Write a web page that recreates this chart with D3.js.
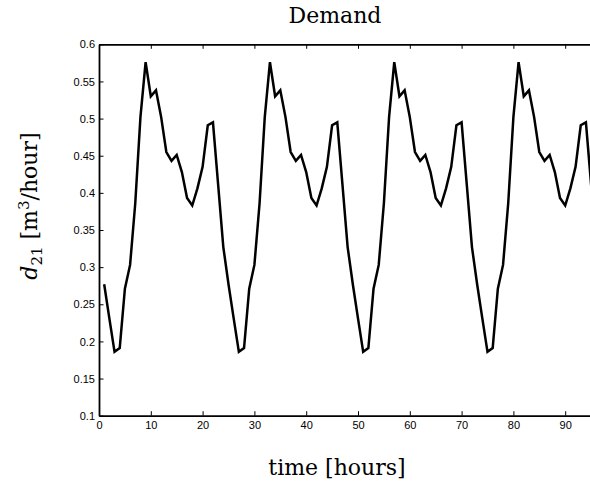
<!DOCTYPE html>
<html>
<head>
<meta charset="utf-8">
<script src="https://cdn.jsdelivr.net/npm/d3@7"></script>
<style>
  body { margin: 0; background: #fff; }
  svg { display: block; }
</style>
</head>
<body>
<div id="chart"></div>
<script>
// hours 1..96
var hours = d3.range(1, 97);
var demand = [
  0.277, 0.231, 0.186, 0.191, 0.271, 0.303, 0.386, 0.502, 0.576, 0.530, 0.538, 0.502,
  0.455, 0.443, 0.451, 0.428, 0.393, 0.383, 0.406, 0.435, 0.491, 0.495, 0.411, 0.327,
  0.277, 0.231, 0.186, 0.191, 0.271, 0.303, 0.386, 0.502, 0.576, 0.530, 0.538, 0.502,
  0.455, 0.443, 0.451, 0.428, 0.393, 0.383, 0.406, 0.435, 0.491, 0.495, 0.411, 0.327,
  0.277, 0.231, 0.186, 0.191, 0.271, 0.303, 0.386, 0.502, 0.576, 0.530, 0.538, 0.502,
  0.455, 0.443, 0.451, 0.428, 0.393, 0.383, 0.406, 0.435, 0.491, 0.495, 0.411, 0.327,
  0.277, 0.231, 0.186, 0.191, 0.271, 0.303, 0.386, 0.502, 0.576, 0.530, 0.538, 0.502,
  0.455, 0.443, 0.451, 0.428, 0.393, 0.383, 0.406, 0.435, 0.491, 0.495, 0.411, 0.327
];
var xTicks = [0, 10, 20, 30, 40, 50, 60, 70, 80, 90];
var yTicks = [0.1, 0.15, 0.2, 0.25, 0.3, 0.35, 0.4, 0.45, 0.5, 0.55, 0.6];

function init() {
  var w = 590, h = 484;
  var left = 99, plotTop = 44.3, bottom = 415.7;
  var right = left + 96 * 5.18; // axes run past the picture edge

  var svg = d3.select("#chart").append("svg")
    .attr("width", w)
    .attr("height", h);

  var xScale = d3.scaleLinear().domain([0, 96]).range([left, right]);
  var yScale = d3.scaleLinear().domain([0.1, 0.6]).range([bottom, plotTop]);

  var tickFont = "'Liberation Sans', Arial, sans-serif";
  var serif = "'DejaVu Serif', 'Liberation Serif', serif";

  // axes with inward ticks (matlab style)
  var xAxis = d3.axisBottom(xScale).tickValues(xTicks).tickSizeInner(-4.5).tickSizeOuter(0).tickPadding(6);
  var xAxisTop = d3.axisTop(xScale).tickValues(xTicks).tickSizeInner(-4.5).tickSizeOuter(0).tickFormat("");
  var yAxis = d3.axisLeft(yScale).tickValues(yTicks).tickSizeInner(-4.5).tickSizeOuter(0).tickPadding(4)
    .tickFormat(function (d) { return String(+d.toFixed(2)); });

  var gx = svg.append("g").attr("transform", "translate(0," + bottom + ")").call(xAxis);
  var gxt = svg.append("g").attr("transform", "translate(0," + plotTop + ")").call(xAxisTop);
  var gy = svg.append("g").attr("transform", "translate(" + left + ",0)").call(yAxis);

  [gx, gxt, gy].forEach(function (g) {
    g.select(".domain").attr("stroke", "#000").attr("stroke-width", 1.8);
    g.selectAll(".tick line").attr("stroke", "#000").attr("stroke-width", 1);
    g.selectAll("text").attr("fill", "#000").style("font-family", tickFont).style("font-size", "11px");
  });
  gy.selectAll("text").attr("dy", "0.33em");

  // demand line
  var line = d3.line()
    .x(function (d, i) { return xScale(hours[i]); })
    .y(function (d) { return yScale(d); });

  svg.append("path")
    .datum(demand)
    .attr("d", line)
    .attr("fill", "none")
    .attr("stroke", "#000")
    .attr("stroke-width", 2.5)
    .attr("stroke-linejoin", "miter");

  // title
  svg.append("text")
    .attr("x", 335)
    .attr("y", 23)
    .attr("text-anchor", "middle")
    .style("font-family", serif)
    .style("font-size", "22px")
    .text("Demand");

  // x label
  svg.append("text")
    .attr("x", 337)
    .attr("y", 475)
    .attr("text-anchor", "middle")
    .style("font-family", serif)
    .style("font-size", "22px")
    .text("time [hours]");

  // y label
  var yl = svg.append("text")
    .attr("transform", "translate(37,206) rotate(-90)")
    .attr("text-anchor", "middle")
    .style("font-family", serif)
    .style("font-size", "22px");
  yl.append("tspan").style("font-style", "italic").text("d");
  yl.append("tspan").attr("dy", 5).style("font-size", "15px").text("21");
  yl.append("tspan").attr("dy", -5).text("  [m");
  yl.append("tspan").attr("dy", -8).style("font-size", "15px").text("3");
  yl.append("tspan").attr("dy", 8).text("/hour]");
}

init();
</script>
</body>
</html>
